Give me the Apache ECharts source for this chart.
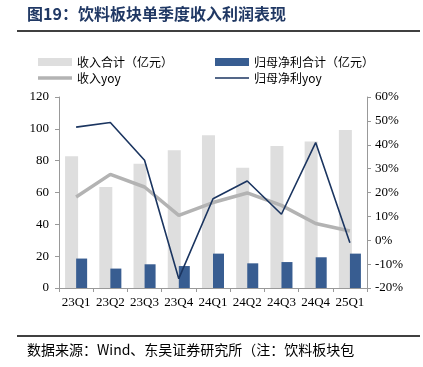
<!DOCTYPE html>
<html><head><meta charset="utf-8">
<script src="https://cdn.jsdelivr.net/npm/echarts@6/dist/echarts.min.js"></script>
<style>html,body{margin:0;padding:0;background:#fff}#c{width:423px;height:367px}</style>
</head><body><div id="c"></div>
<script>
var categories = ['23Q1','23Q2','23Q3','23Q4','24Q1','24Q2','24Q3','24Q4','25Q1'];
var revenue = [82.7, 63.4, 78.1, 86.5, 95.9, 75.6, 89.2, 92.1, 99.2];
var profit = [18.5, 12.2, 14.9, 13.8, 21.6, 15.5, 16.3, 19.3, 21.6];
var revenueYoy = [18.1, 27.6, 22.3, 10.4, 15.8, 19.8, 14.6, 7.0, 3.9];
var profitYoy = [47.4, 49.3, 33.5, -16.1, 17.4, 24.8, 10.9, 40.9, -1.0];

var serif = '"Liberation Serif", "Times New Roman", serif';
var cjk = '"Noto Sans CJK SC", sans-serif';
var chart = echarts.init(document.getElementById('c'), null, {renderer: 'canvas'});
var legendBase = {itemWidth: 34, itemGap: 4, textStyle: {fontFamily: cjk, fontSize: 12, color: '#000'}, padding: 0, selectedMode: false};
chart.setOption({
  animation: false,
  grid: {left: 59, right: 56, top: 97, bottom: 79},
  legend: [
    Object.assign({}, legendBase, {left: 38, top: 56, itemHeight: 8, data: [{name: '收入合计（亿元）', icon: 'rect'}]}),
    Object.assign({}, legendBase, {left: 215, top: 56, itemHeight: 8, data: [{name: '归母净利合计（亿元）', icon: 'rect'}]}),
    Object.assign({}, legendBase, {left: 38, top: 72, itemHeight: 3.5, data: [{name: '收入yoy', icon: 'rect'}]}),
    Object.assign({}, legendBase, {left: 215, top: 72, itemHeight: 1.6, data: [{name: '归母净利yoy', icon: 'rect'}]})
  ],
  xAxis: {
    type: 'category', data: categories,
    axisLine: {lineStyle: {color: '#999'}},
    axisTick: {show: true, length: 4, lineStyle: {color: '#999'}},
    axisLabel: {fontFamily: serif, fontSize: 13, color: '#000', margin: 8, interval: 0}
  },
  yAxis: [
    {type: 'value', min: 0, max: 120, interval: 20,
     axisLine: {show: true, lineStyle: {color: '#999'}},
     axisTick: {show: true, length: 4, lineStyle: {color: '#999'}},
     splitLine: {show: false},
     axisLabel: {fontFamily: serif, fontSize: 13, color: '#000', margin: 10}},
    {type: 'value', min: -20, max: 60, interval: 10,
     axisLine: {show: true, lineStyle: {color: '#999'}},
     axisTick: {show: true, length: 4, lineStyle: {color: '#999'}},
     splitLine: {show: false},
     axisLabel: {fontFamily: serif, fontSize: 13, color: '#000', margin: 8, formatter: '{value}%'}}
  ],
  series: [
    {name: '收入合计（亿元）', type: 'bar', data: revenue, barWidth: 13, barGap: '-15%', itemStyle: {color: '#dedede'}},
    {name: '归母净利合计（亿元）', type: 'bar', data: profit, barWidth: 11, itemStyle: {color: '#385d91'}},
    {name: '收入yoy', type: 'line', yAxisIndex: 1, data: revenueYoy, symbol: 'none', lineStyle: {color: '#b3b3b3', width: 3.5}, itemStyle: {color: '#b3b3b3'}},
    {name: '归母净利yoy', type: 'line', yAxisIndex: 1, data: profitYoy, symbol: 'none', lineStyle: {color: '#1b3560', width: 1.6}, itemStyle: {color: '#1b3560'}}
  ],
  graphic: [
    {type: 'text', left: 27, top: 6, style: {text: '图19：饮料板块单季度收入利润表现', fontFamily: cjk, fontSize: 16, fontWeight: 'bold', fill: '#203864'}},
    {type: 'line', shape: {x1: 17, y1: 31, x2: 420, y2: 31}, style: {stroke: '#000', lineWidth: 1.5}},
    {type: 'line', shape: {x1: 17, y1: 336, x2: 420, y2: 336}, style: {stroke: '#000', lineWidth: 1.5}},
    {type: 'text', left: 27, top: 343, style: {text: '数据来源：Wind、东吴证券研究所（注：饮料板块包', fontFamily: cjk, fontSize: 14, fill: '#000'}}
  ]
});
</script></body></html>
